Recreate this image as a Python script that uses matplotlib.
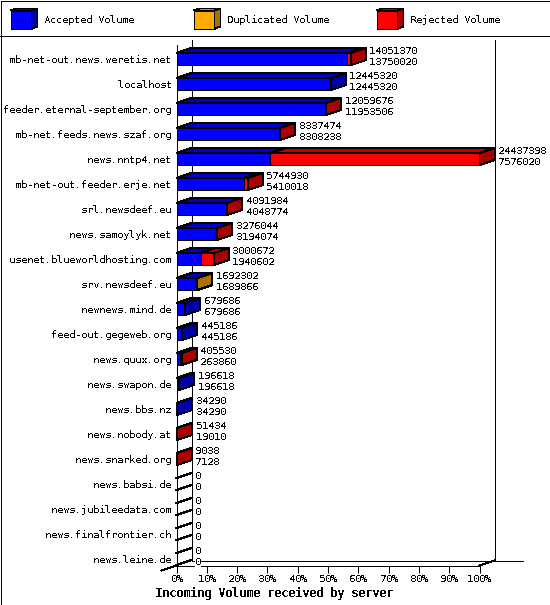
import matplotlib
matplotlib.use("Agg")
import matplotlib.pyplot as plt
from matplotlib.patches import Polygon, Rectangle

plt.rcParams['font.family'] = ['DejaVu Sans Mono']
plt.rcParams['font.size'] = 7.2
plt.rcParams['text.antialiased'] = False
plt.rcParams['text.hinting'] = 'native'
plt.rcParams['text.hinting_factor'] = 1

servers = ["mb-net-out.news.weretis.net", "localhost", "feeder.eternal-september.org",
           "mb-net.feeds.news.szaf.org", "news.nntp4.net", "mb-net-out.feeder.erje.net",
           "srl.newsdeef.eu", "news.samoylyk.net", "usenet.blueworldhosting.com",
           "srv.newsdeef.eu", "newnews.mind.de", "feed-out.gegeweb.org", "news.quux.org",
           "news.swapon.de", "news.bbs.nz", "news.nobody.at", "news.snarked.org",
           "news.babsi.de", "news.jubileedata.com", "news.finalfrontier.ch", "news.leine.de"]
total = [14051370, 12445320, 12059676, 8337474, 24437398, 5744930, 4091984, 3276044,
         3000672, 1692302, 679686, 445186, 405530, 196618, 34290, 51434, 9038, 0, 0, 0, 0]
accepted = [13750020, 12445320, 11953506, 8308238, 7576020, 5410018, 4048774, 3194074,
            1940602, 1689866, 679686, 445186, 263860, 196618, 34290, 19010, 7128, 0, 0, 0, 0]
duplicated = [0, 0, 0, 0, 0, 0, 0, 0, 0, 2436, 0, 0, 0, 0, 0, 0, 0, 0, 0, 0, 0]
legend_names = ["Accepted Volume", "Duplicated Volume", "Rejected Volume"]
pct_ticks = list(range(0, 101, 10))

# front, top and side colour of each series
colors = [("#0000ff", "#0000c8", "#0000aa"),
          ("#ffaa00", "#c88600", "#aa7100"),
          ("#ff0000", "#c00000", "#aa0000")]

W, H = 550, 605
LW = 0.72                 # one pixel at dpi 100
DEPTH_X = 15 / 303 * 100  # 15 px in percent
DEPTH_Y = 5 / 25          # 5 px in rows
BAR_H = 12 / 25


def poly(ax, pts, color, z=3):
    ax.add_patch(Polygon(pts, closed=True, facecolor=color, edgecolor="black", lw=LW,
                         antialiased=False, clip_on=False, zorder=z))


fig = plt.figure(figsize=(W / 100, H / 100), dpi=100)

# page: border, legend strip
page = fig.add_axes([0, 0, 1, 1])
page.set_xlim(0, W)
page.set_ylim(H, 0)
page.axis("off")
page.add_patch(Rectangle((0.5, 0.5), W - 1, H - 1, fill=False, edgecolor="black", lw=LW,
                         antialiased=False))
page.plot([0, W], [35.5, 35.5], color="black", lw=LW, antialiased=False)
for name, col, x0, tx in zip(legend_names, colors, [10.5, 193.5, 376.5], [44, 227, 410]):
    poly(page, [(x0, 10.5), (x0 + 21, 10.5), (x0 + 21, 28.5), (x0, 28.5)], col[0])
    poly(page, [(x0, 10.5), (x0 + 6, 8.5), (x0 + 27, 8.5), (x0 + 21, 10.5)], col[1])
    poly(page, [(x0 + 21, 10.5), (x0 + 27, 8.5), (x0 + 27, 26.5), (x0 + 21, 28.5)], col[2])
    page.text(tx, 20, name, va="center", ha="left")
page.text(274, 593, "Incoming Volume received by server", va="center", ha="center",
          fontweight="bold", fontsize=8.4)

# main plot, the axes box is the front plane of the 3d look
ax = fig.add_axes([176.5 / W, 1 - 565.5 / H, 303 / W, 525 / H])
ax.set_xlim(0, 100)
ax.set_ylim(20.26, -0.74)
ax.patch.set_alpha(0)
for s in ax.spines.values():
    s.set_visible(False)

# walls
yb = 20.26
yt = -0.54
wall = dict(color="black", lw=LW, antialiased=False, clip_on=False, zorder=1)
ax.plot([0, 0], [yt, yb], **wall)
ax.plot([DEPTH_X, DEPTH_X], [yt - DEPTH_Y, yb - DEPTH_Y], **wall)
ax.plot([100 + DEPTH_X, 100 + DEPTH_X], [yt - DEPTH_Y, yb - DEPTH_Y], **wall)
ax.plot([0, 100], [yb, yb], **wall)
ax.plot([DEPTH_X, 114.5], [yb - DEPTH_Y, yb - DEPTH_Y], **wall)
ax.plot([-DEPTH_X, 0], [yb + DEPTH_Y, yb], **wall)
ax.plot([100, 100 + DEPTH_X], [yb, yb - DEPTH_Y], **wall)

scale = 100 / max(total)
for i, name in enumerate(servers):
    rejected = total[i] - accepted[i] - duplicated[i]
    y0 = i - BAR_H / 2
    y1 = i + BAR_H / 2
    left = 0
    last = None
    for val, col in zip([accepted[i], duplicated[i], rejected], colors):
        if val <= 0:
            continue
        w = val * scale
        ax.barh(i, w, BAR_H, left=left, color=col[0], edgecolor="black", lw=LW,
                antialiased=False, clip_on=False, zorder=3)
        poly(ax, [(left, y0), (left + w, y0), (left + w + DEPTH_X, y0 - DEPTH_Y),
                  (left + DEPTH_X, y0 - DEPTH_Y)], col[1])
        left += w
        last = col
    if last is None:
        # empty row, only the outline of the side face
        ax.plot([0, DEPTH_X], [y0, y0 - DEPTH_Y], **wall)
        ax.plot([0, DEPTH_X], [y1, y1 - DEPTH_Y], **wall)
    else:
        poly(ax, [(left, y0), (left + DEPTH_X, y0 - DEPTH_Y),
                  (left + DEPTH_X, y1 - DEPTH_Y), (left, y1)], last[2])
    tx = left + DEPTH_X + 1.2
    ax.text(tx, i - 0.32, str(total[i]), va="center", ha="left", clip_on=False, zorder=5,
            bbox=dict(facecolor="white", edgecolor="none", pad=0))
    ax.text(tx, i + 0.12, str(accepted[i]), va="center", ha="left", clip_on=False, zorder=5,
            bbox=dict(facecolor="white", edgecolor="none", pad=0))

ax.set_yticks(range(len(servers)))
ax.set_yticklabels(servers)
ax.tick_params(axis="y", length=0, pad=3.6)
ax.set_xticks(pct_ticks)
ax.set_xticklabels([f"{p}%" for p in pct_ticks])
ax.tick_params(axis="x", length=5, width=LW, pad=1.3)

fig.savefig("out.png", dpi=100)
